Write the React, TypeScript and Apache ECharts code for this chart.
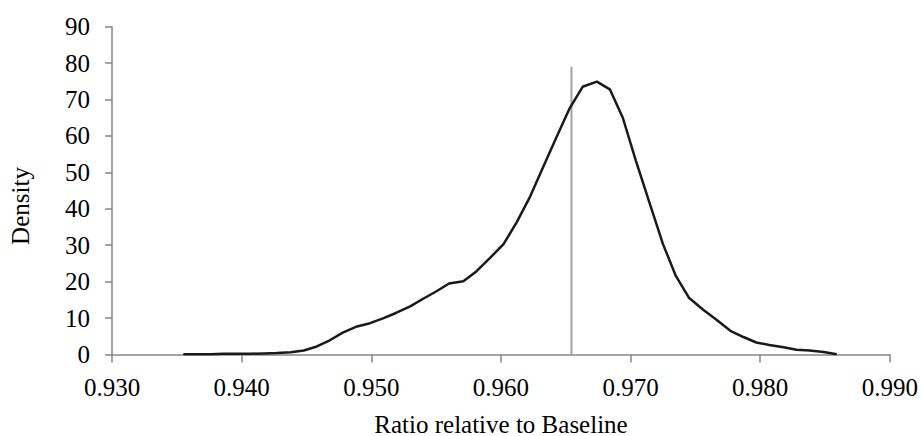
import React, { useEffect, useRef } from "react";
import * as echarts from "echarts";

const ratioValues = [
  0.9355, 0.9365, 0.9376, 0.9386, 0.9396, 0.9407, 0.9417, 0.9427, 0.9438, 0.9448,
  0.9458, 0.9468, 0.9478, 0.9489, 0.9499, 0.9509, 0.9519, 0.953, 0.954, 0.955,
  0.956, 0.9571, 0.9581, 0.9591, 0.9602, 0.9612, 0.9622, 0.9633, 0.9643, 0.9653,
  0.9663, 0.9674, 0.9684, 0.9694, 0.9704, 0.9715, 0.9725, 0.9735, 0.9745, 0.9756,
  0.9766, 0.9777, 0.9787, 0.9797, 0.9807, 0.9818, 0.9828, 0.9838, 0.9849, 0.9859,
];
const densityValues = [
  0.1, 0.1, 0.1, 0.2, 0.2, 0.2, 0.3, 0.4, 0.6, 1.1,
  2.2, 3.9, 6.0, 7.7, 8.6, 9.9, 11.4, 13.2, 15.3, 17.3,
  19.5, 20.1, 22.8, 26.3, 30.3, 36.2, 43.0, 51.8, 59.8, 67.6,
  73.5, 74.9, 72.8, 65.0, 53.3, 41.2, 30.3, 21.5, 15.6, 12.3,
  9.6, 6.5, 4.8, 3.3, 2.6, 2.0, 1.3, 1.1, 0.7, 0.05,
];
const baselineMarkX = [0.96544, 0.96544];
const baselineMarkY = [0, 79];

const xTitle = "Ratio relative to Baseline";
const yTitle = "Density";

const FONT = "Liberation Serif";

export default function App() {
  const ref = useRef<HTMLDivElement>(null);
  useEffect(() => {
    if (!ref.current) return;
    const chart = echarts.init(ref.current, undefined, { renderer: "svg" });
    const curve = ratioValues.map((x, i) => [x, densityValues[i]]);
    const mark = baselineMarkX.map((x, i) => [x, baselineMarkY[i]]);
    chart.setOption({
      animation: false,
      backgroundColor: "#ffffff",
      textStyle: { fontFamily: FONT },
      grid: { left: 112, right: 31, top: 26.7, bottom: 81.5, containLabel: false },
      xAxis: {
        type: "value",
        min: 0.93,
        max: 0.99,
        interval: 0.01,
        axisLine: { show: true, lineStyle: { color: "#868686", width: 1.5 } },
        axisTick: { show: true, inside: false, length: 8, lineStyle: { color: "#868686", width: 1.5 } },
        splitLine: { show: false },
        axisLabel: {
          color: "#000",
          fontFamily: FONT,
          fontSize: 25,
          margin: 20,
          formatter: (v: number) => v.toFixed(3),
        },
      },
      yAxis: {
        type: "value",
        min: 0,
        max: 90,
        interval: 10,
        axisLine: { show: true, lineStyle: { color: "#868686", width: 1.5 } },
        axisTick: { show: true, inside: false, length: 7, lineStyle: { color: "#868686", width: 1.5 } },
        splitLine: { show: false },
        axisLabel: { color: "#000", fontFamily: FONT, fontSize: 25, margin: 22 },
      },
      graphic: [
        {
          type: "text",
          x: 501,
          y: 424,
          style: {
            text: xTitle,
            fontFamily: FONT,
            fontSize: 25,
            fill: "#000",
            align: "center",
            verticalAlign: "middle",
          },
        },
        {
          type: "text",
          x: 20,
          y: 206,
          rotation: Math.PI / 2,
          style: {
            text: yTitle,
            fontFamily: FONT,
            fontSize: 25,
            fill: "#000",
            align: "center",
            verticalAlign: "middle",
          },
        },
      ],
      series: [
        {
          type: "line",
          data: mark,
          symbol: "none",
          lineStyle: { color: "#a0a0a0", width: 2 },
          z: 1,
        },
        {
          type: "line",
          data: curve,
          symbol: "none",
          smooth: false,
          lineStyle: { color: "#1a1a1a", width: 2.5 },
          z: 2,
        },
      ],
    });
    return () => chart.dispose();
  }, []);
  return (
    <div
      ref={ref}
      style={{ position: "fixed", left: 0, top: 0, width: 921, height: 436, background: "#fff" }}
    />
  );
}
